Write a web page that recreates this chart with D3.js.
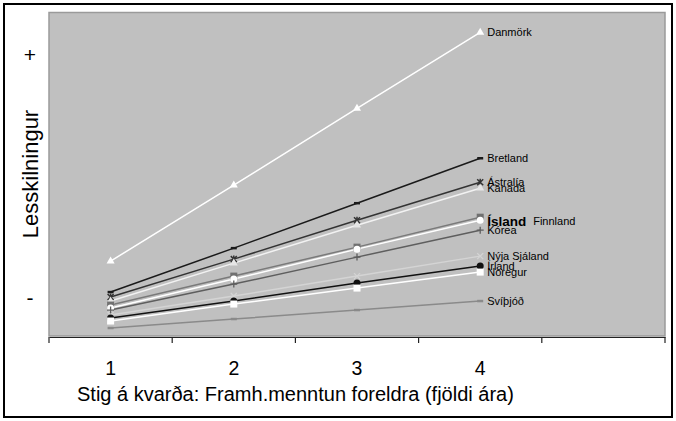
<!DOCTYPE html>
<html><head><meta charset="utf-8">
<script src="https://cdn.jsdelivr.net/npm/d3@7"></script>
<style>body{margin:0;background:#fff}svg{display:block;font-family:Arial,"Liberation Sans",sans-serif}</style>
</head><body><svg id="c" width="676" height="421"></svg>
<script>
const categories = [1, 2, 3, 4, 5];
const tickLabels = ["1", "2", "3", "4", ""];
const countries = ["Danmörk","Bretland","Ástralía","Kanada","Ísland","Finnland","Kórea","Nýja Sjáland","Írland","Noregur","Svíþjóð"];
const danmork   = [75, 151, 228, 304];
const bretland  = [44, 88, 133, 178];
const astralia  = [39, 77, 116, 154];
const kanada    = [35, 73, 111, 148];
const island    = [31, 60, 89, 119];
const finnland  = [28, 57, 87, 116];
const korea     = [26, 52, 79, 106];
const nyjaSjaland = [21, 40, 60, 80];
const irland    = [18, 35, 53, 70];
const noregur   = [15, 32, 48, 64];
const svithjod  = [8, 17, 26, 35];
const seriesValues = [danmork,bretland,astralia,kanada,island,finnland,korea,nyjaSjaland,irland,noregur,svithjod];

const styles = {
  "Danmörk":      {line:"#ffffff", mark:"tri",   fill:"#ffffff"},
  "Bretland":     {line:"#1a1a1a", mark:"dash",  fill:"#1a1a1a"},
  "Ástralía":     {line:"#333333", mark:"star",  fill:"#333333"},
  "Kanada":       {line:"#f2f2f2", mark:"tri",   fill:"#e6e6e6"},
  "Ísland":       {line:"#7a7a7a", mark:"sq",    fill:"#707070"},
  "Finnland":     {line:"#ffffff", mark:"circ",  fill:"#ffffff"},
  "Kórea":        {line:"#5e5e5e", mark:"plus",  fill:"#5e5e5e"},
  "Nýja Sjáland": {line:"#d4d4d4", mark:"x",     fill:"#d4d4d4"},
  "Írland":       {line:"#111111", mark:"circ",  fill:"#111111"},
  "Noregur":      {line:"#ffffff", mark:"sq",    fill:"#ffffff"},
  "Svíþjóð":      {line:"#8a8a8a", mark:"dash",  fill:"#8a8a8a"}
};
const labelDy = {"Ísland": 4};

const svg = d3.select("#c");
const L = 49, R = 665, T = 12.5, B = 336;

svg.append("rect").attr("x",4).attr("y",4).attr("width",668).attr("height",413)
  .attr("fill","#fff").attr("stroke","#000").attr("stroke-width",2);

const x = d3.scaleBand().domain(categories).range([L, R]).padding(0);
const y = d3.scaleLinear().domain([0, 324]).range([B, T]);

svg.append("rect").attr("x",L).attr("y",T).attr("width",R-L).attr("height",B-T)
  .attr("fill","#c0c0c0").attr("stroke","#9a9a9a").attr("stroke-width",1.5);

// axis
const ax = svg.append("g").attr("transform",`translate(0,${B+1})`)
  .call(d3.axisBottom(x).tickSize(0).tickPadding(24).tickFormat((d,i)=>tickLabels[i]));
ax.select(".domain").attr("stroke","#222").attr("stroke-width",1.2);
ax.selectAll("text").attr("font-size",19.5).attr("fill","#000").attr("font-family","Arial, 'Liberation Sans', sans-serif");
const bounds = categories.map(c => x(c)).concat([R]);
ax.selectAll(".bnd").data(bounds).enter().append("line").attr("class","bnd")
  .attr("x1",d=>d).attr("x2",d=>d).attr("y1",0).attr("y2",6).attr("stroke","#222").attr("stroke-width",1.2);

const cx = c => x(c) + x.bandwidth()/2;
const line = d3.line().x((d,i)=>cx(categories[i])).y(d=>y(d));

const plot = svg.append("g");
countries.forEach((name, k) => {
  const vals = seriesValues[k], st = styles[name];
  plot.append("path").attr("d", line(vals)).attr("fill","none")
    .attr("stroke", st.line).attr("stroke-width",1.5);
});
countries.forEach((name, k) => {
  const vals = seriesValues[k], st = styles[name];
  vals.forEach((v,i) => {
    const px = cx(categories[i]), py = y(v);
    const g = plot.append("g").attr("transform",`translate(${px},${py})`);
    const f = st.fill;
    if (st.mark === "tri") g.append("path").attr("d", d3.symbol(d3.symbolTriangle, 28)()).attr("fill", f);
    else if (st.mark === "sq") g.append("rect").attr("x",-3.5).attr("y",-3.5).attr("width",7).attr("height",7).attr("fill",f);
    else if (st.mark === "circ") g.append("circle").attr("r",3.5).attr("fill",f);
    else if (st.mark === "dash") g.append("line").attr("x1",-3).attr("x2",3).attr("stroke",f).attr("stroke-width",2.5);
    else if (st.mark === "plus") g.append("path").attr("d","M-3.5,0H3.5M0,-3.5V3.5").attr("stroke",f).attr("stroke-width",1.3);
    else if (st.mark === "x") g.append("path").attr("d","M-3,-3L3,3M-3,3L3,-3").attr("stroke",f).attr("stroke-width",1.3);
    else if (st.mark === "star") g.append("path").attr("d","M-3,-3L3,3M-3,3L3,-3M0,-3.5V3.5").attr("stroke",f).attr("stroke-width",1.5);
  });
  const last = vals[vals.length-1];
  const lx = cx(categories[vals.length-1]) + 7;
  const ly = y(last) + (labelDy[name] || 0);
  if (name === "Ísland") {
    plot.append("text").attr("x",lx).attr("y",ly).attr("dominant-baseline","central")
      .attr("font-size",13.5).attr("font-weight","bold").attr("fill","#000").text(name);
  } else if (name === "Finnland") {
    plot.append("text").attr("x",lx+46).attr("y",y(seriesValues[countries.indexOf("Ísland")][3]) + 4).attr("dominant-baseline","central")
      .attr("font-size",11).attr("fill","#000").text(name);
  } else {
    plot.append("text").attr("x",lx).attr("y",ly).attr("dominant-baseline","central")
      .attr("font-size",11).attr("fill","#000").text(name);
  }
});

svg.append("text").attr("transform","translate(38,174) rotate(-90)").attr("text-anchor","middle")
  .attr("font-size",22).attr("fill","#000").text("Lesskilningur");
svg.append("text").attr("x",30).attr("y",62).attr("text-anchor","middle").attr("font-size",21).attr("fill","#000").text("+");
svg.append("text").attr("x",30).attr("y",305).attr("text-anchor","middle").attr("font-size",21).attr("fill","#000").text("-");
svg.append("text").attr("x",77).attr("y",401).attr("font-size",20).attr("fill","#000")
  .text("Stig á kvarða: Framh.menntun foreldra (fjöldi ára)");
</script></body></html>
